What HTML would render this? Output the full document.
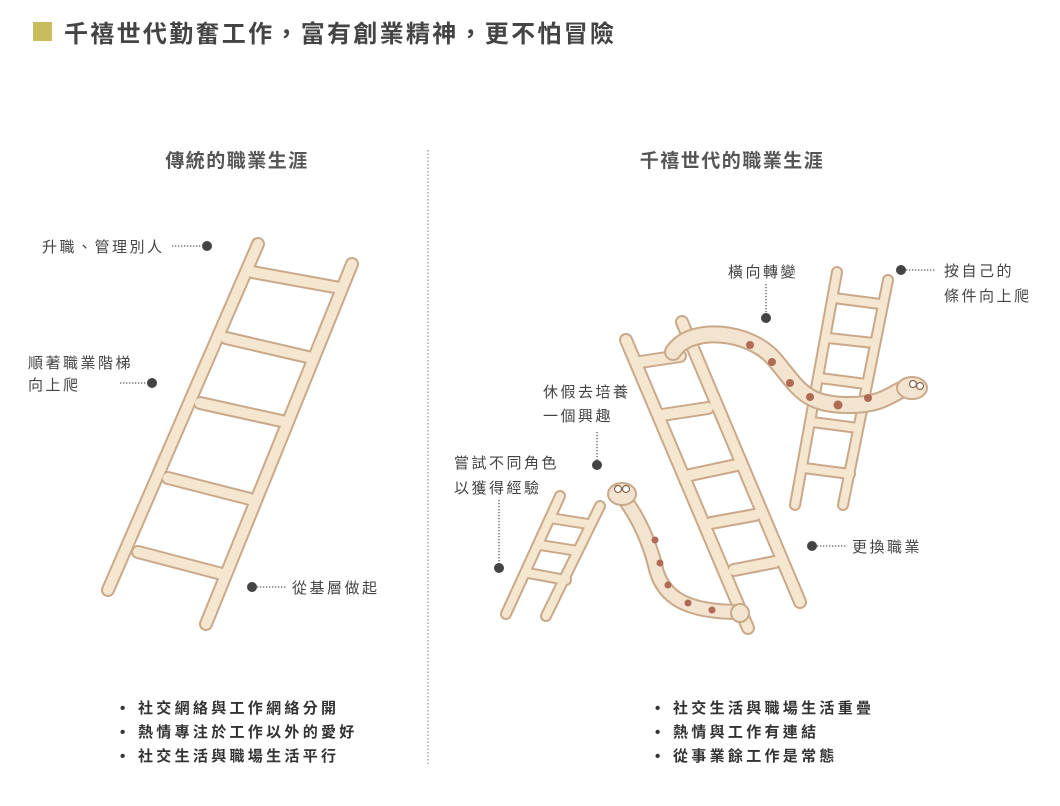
<!DOCTYPE html>
<html><head><meta charset="utf-8"><style>
html,body{margin:0;padding:0;background:#fff;}
svg{display:block;}
text{font-family:"Liberation Sans","Noto Sans CJK TC",sans-serif;}
</style></head><body>
<svg width="1060" height="806" viewBox="0 0 1060 806" xmlns="http://www.w3.org/2000/svg">
<defs>
<g id="L1">
 <line x1="252" y1="272" x2="340" y2="288"/>
 <line x1="226" y1="338" x2="312" y2="358"/>
 <line x1="200" y1="403" x2="286" y2="422"/>
 <line x1="168" y1="478" x2="254" y2="500"/>
 <line x1="138" y1="552" x2="222" y2="574"/>
 <line x1="258" y1="244" x2="108" y2="590"/>
 <line x1="352" y1="264" x2="206" y2="624"/>
</g>
<g id="L2">
 <line x1="640" y1="362" x2="680" y2="356"/>
 <line x1="662" y1="415" x2="708" y2="408"/>
 <line x1="690" y1="475" x2="737" y2="465"/>
 <line x1="711" y1="523" x2="755" y2="515"/>
 <line x1="734" y1="570" x2="775" y2="562"/>
 <line x1="626" y1="340" x2="748" y2="628"/>
 <line x1="682" y1="322" x2="800" y2="602"/>
</g>
<g id="L3">
 <line x1="834" y1="298" x2="880" y2="304"/>
 <line x1="828" y1="338" x2="874" y2="343"/>
 <line x1="820" y1="378" x2="866" y2="384"/>
 <line x1="812" y1="422" x2="858" y2="428"/>
 <line x1="804" y1="468" x2="850" y2="474"/>
 <line x1="837" y1="272" x2="795" y2="505"/>
 <line x1="888" y1="280" x2="843" y2="505"/>
</g>
<g id="L4">
 <line x1="550" y1="518" x2="588" y2="524"/>
 <line x1="540" y1="545" x2="578" y2="551"/>
 <line x1="528" y1="573" x2="566" y2="580"/>
 <line x1="560" y1="496" x2="506" y2="614"/>
 <line x1="600" y1="506" x2="546" y2="616"/>
</g>
<path id="S1" d="M673,352 C690,325 750,330 775,360 C800,390 805,405 850,405 C880,405 890,395 905,388"/>
<path id="S2" d="M625,500 C640,520 650,545 655,565 C662,600 690,612 740,612"/>
</defs>
<rect x="33" y="22" width="19" height="19" fill="#c9bc5c"/>
<text x="64" y="42" font-size="24" font-weight="bold" fill="#444" letter-spacing="2.3">千禧世代勤奮工作，富有創業精神，更不怕冒險</text>
<text x="237" y="167" font-size="19" font-weight="bold" fill="#555" text-anchor="middle" letter-spacing="1.5">傳統的職業生涯</text>
<text x="732" y="167" font-size="19" font-weight="bold" fill="#555" text-anchor="middle" letter-spacing="1.5">千禧世代的職業生涯</text>
<line x1="428" y1="150" x2="428" y2="765" stroke="#777" stroke-width="1" stroke-dasharray="1.5,2"/>

<g fill="none" stroke-linecap="round">
<use href="#L1" stroke="#c9a98a" stroke-width="14"/><use href="#L1" stroke="#f5e6d0" stroke-width="10"/>
<use href="#L2" stroke="#c9a98a" stroke-width="14"/><use href="#L2" stroke="#f5e6d0" stroke-width="10"/>
<use href="#L3" stroke="#c9a98a" stroke-width="12"/><use href="#L3" stroke="#f5e6d0" stroke-width="8"/>
<use href="#L4" stroke="#c9a98a" stroke-width="12"/><use href="#L4" stroke="#f5e6d0" stroke-width="8"/>
<use href="#S1" stroke="#c9a98a" stroke-width="18"/><use href="#S1" stroke="#f3e4cf" stroke-width="14"/>
<use href="#S2" stroke="#c9a98a" stroke-width="16"/><use href="#S2" stroke="#f3e4cf" stroke-width="12"/>
</g>
<g fill="#f3e4cf" stroke="#c9a98a" stroke-width="2">
<ellipse cx="912" cy="388" rx="15" ry="11"/>
<ellipse cx="622" cy="494" rx="14" ry="11"/>
<circle cx="740" cy="613" r="9"/>
</g>
<g fill="#fff" stroke="#8a6a55" stroke-width="1.3">
<circle cx="913" cy="384" r="3.5"/><circle cx="920" cy="386" r="3.5"/>
<circle cx="618" cy="489" r="3.5"/><circle cx="626" cy="489" r="3.5"/>
</g>
<g fill="#b06a55">
<circle cx="750" cy="345" r="4"/><circle cx="772" cy="362" r="4"/><circle cx="790" cy="383" r="4"/><circle cx="810" cy="397" r="4"/><circle cx="838" cy="405" r="4.5"/><circle cx="868" cy="398" r="4"/>
<circle cx="655" cy="540" r="3.5"/><circle cx="660" cy="563" r="3.5"/><circle cx="668" cy="585" r="3.5"/><circle cx="688" cy="603" r="3.5"/><circle cx="712" cy="610" r="3.5"/>
</g>

<g fill="#444">
<circle cx="207" cy="246" r="5"/><circle cx="152" cy="383" r="5"/><circle cx="252" cy="587" r="5"/>
<circle cx="766" cy="318" r="5"/><circle cx="901" cy="270" r="5"/><circle cx="597" cy="465" r="5"/>
<circle cx="499" cy="568" r="5"/><circle cx="812" cy="546" r="5"/>
</g>
<g stroke="#555" stroke-width="1.3" stroke-dasharray="1.3,1.7">
<line x1="172" y1="246" x2="202" y2="246"/><line x1="120" y1="383" x2="147" y2="383"/><line x1="257" y1="587" x2="286" y2="587"/>
<line x1="766" y1="284" x2="766" y2="313"/><line x1="906" y1="270" x2="935" y2="270"/><line x1="597" y1="432" x2="597" y2="460"/>
<line x1="499" y1="500" x2="499" y2="563"/><line x1="817" y1="546" x2="846" y2="546"/>
</g>
<g font-size="15" fill="#444" letter-spacing="2.5">
<text x="42" y="252">升職、管理別人</text>
<text x="28" y="368">順著職業階梯</text><text x="28" y="390">向上爬</text>
<text x="292" y="593">從基層做起</text>
<text x="728" y="277">橫向轉變</text>
<text x="944" y="276">按自己的</text><text x="944" y="301">條件向上爬</text>
<text x="543" y="397">休假去培養</text><text x="543" y="421">一個興趣</text>
<text x="454" y="468">嘗試不同角色</text><text x="454" y="493">以獲得經驗</text>
<text x="852" y="552">更換職業</text>
</g>
<g font-size="15" font-weight="bold" fill="#333" letter-spacing="3.3">
<text x="120" y="713">•</text><text x="138" y="713">社交網絡與工作網絡分開</text>
<text x="120" y="737">•</text><text x="138" y="737">熱情專注於工作以外的愛好</text>
<text x="120" y="761">•</text><text x="138" y="761">社交生活與職場生活平行</text>
<text x="655" y="713">•</text><text x="673" y="713">社交生活與職場生活重疊</text>
<text x="655" y="737">•</text><text x="673" y="737">熱情與工作有連結</text>
<text x="655" y="761">•</text><text x="673" y="761">從事業餘工作是常態</text>
</g>
</svg>
</body></html>
